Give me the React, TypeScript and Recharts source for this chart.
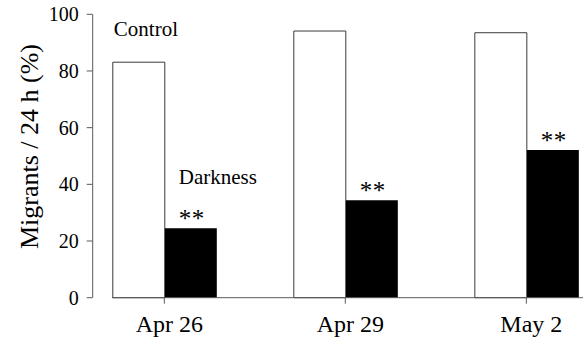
import React from 'react';
import { BarChart, Bar, XAxis, YAxis, LabelList } from 'recharts';

const categories = ['Apr 26', 'Apr 29', 'May 2'];
const controlValues = [83.1, 94.1, 93.5];
const darknessValues = [24.5, 34.4, 52.1];
const significance = ['**', '**', '**'];
const yTicks = [0, 20, 40, 60, 80, 100];
const xPositions = [0, 1, 2];

const data = categories.map((c, i) => ({
  pos: xPositions[i],
  label: c,
  control: controlValues[i],
  darkness: darknessValues[i],
  sig: significance[i],
}));

const FONT = 'Liberation Serif';
const AXIS = '#5a5a5a';

const SigLabel = (props: any) => {
  const { x, y, width, value } = props;
  return (
    <text x={x + width / 2 + 1} y={y - 1} textAnchor="middle" style={{ fontFamily: FONT, fontSize: 25 }} letterSpacing={0.5} fill="#000">
      {value}
    </text>
  );
};

const ControlName = (props: any) => {
  const { x, y, index } = props;
  if (index !== 0) return null;
  return (
    <text x={x + 1} y={y - 26} style={{ fontFamily: FONT, fontSize: 21 }} fill="#000">
      Control
    </text>
  );
};

const DarkName = (props: any) => {
  const { x, y, index } = props;
  if (index !== 0) return null;
  return (
    <text x={x + 14} y={y - 44} style={{ fontFamily: FONT, fontSize: 21 }} fill="#000">
      Darkness
    </text>
  );
};

const YLabel = () => (
  <text
    x={29}
    y={146.5}
    transform="rotate(-90, 29, 146.5)"
    textAnchor="middle"
    dominantBaseline="central"
    style={{ fontFamily: FONT, fontSize: 26 }}
    fill="#000"
  >
    Migrants / 24 h (%)
  </text>
);

export default function App() {
  return (
    <div style={{ position: 'absolute', left: 0, top: 0, background: '#fff', fontFamily: FONT }}>
      <BarChart
        width={583}
        height={345}
        data={data}
        margin={{ top: 14.3, right: 0, bottom: 0, left: 0 }}
        barGap={0}
        barSize={52}
        style={{ fontFamily: FONT }}
      >
        <XAxis
          dataKey="pos"
          type="number"
          domain={[-0.289, 2.313]}
          ticks={xPositions}
          tickFormatter={(v: number) => categories[v] ?? ''}
          height={47.3}
          stroke={AXIS}
          tickSize={6}
          tickMargin={11}
          tick={{ fontFamily: FONT, fontSize: 24, fill: '#000', dx: 5 }}
          allowDataOverflow
        />
        <YAxis
          yAxisId="inner"
          width={19.3}
          domain={[0, 100]}
          axisLine={false}
          tick={false}
          tickLine={false}
        />
        <YAxis
          yAxisId="main"
          width={92.7}
          domain={[0, 100]}
          ticks={yTicks}
          stroke={AXIS}
          tickSize={6}
          tickMargin={8}
          tick={{ fontFamily: FONT, fontSize: 20, fill: '#000' }}
          label={<YLabel />}
        />
        <Bar dataKey="control" yAxisId="main" fill="#fff" stroke="#3a3a3a" strokeWidth={1} isAnimationActive={false}>
          <LabelList dataKey="label" content={<ControlName />} />
        </Bar>
        <Bar dataKey="darkness" yAxisId="main" fill="#000" isAnimationActive={false}>
          <LabelList dataKey="sig" content={<SigLabel />} />
          <LabelList dataKey="label" content={<DarkName />} />
        </Bar>
      </BarChart>
    </div>
  );
}
